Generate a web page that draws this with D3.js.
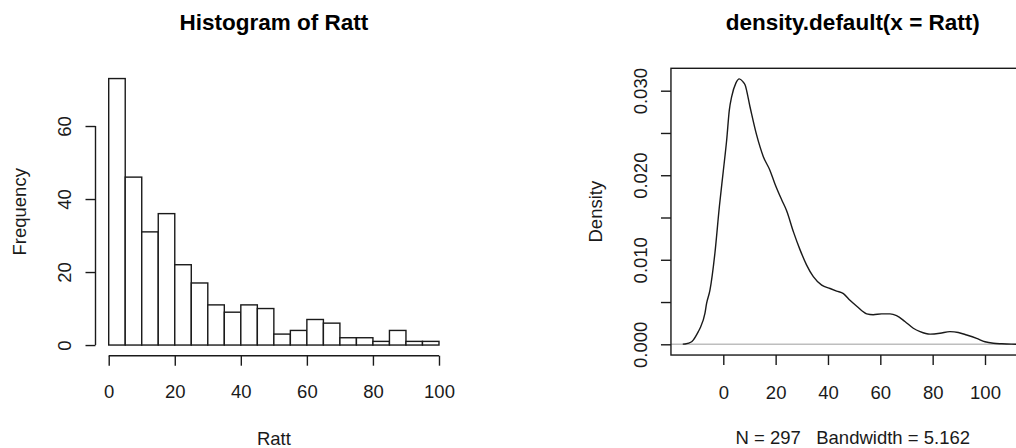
<!DOCTYPE html>
<html>
<head>
<meta charset="utf-8">
<script src="https://cdn.jsdelivr.net/npm/d3@7"></script>
<style>
  html, body { margin: 0; padding: 0; background: #fff; }
  svg { display: block; font-family: "Liberation Sans", Arial, sans-serif; }
</style>
</head>
<body>
<svg id="chart" width="1016" height="448"></svg>
<script>
// ---------- data ----------
const histBreaks = [0,5,10,15,20,25,30,35,40,45,50,55,60,65,70,75,80,85,90,95,100];
const histCounts = [73,46,31,36,22,17,11,9,11,10,3,4,7,6,2,2,1,4,1,1];
const histXTicks = [0,20,40,60,80,100];
const histYTicks = [0,20,40,60];

const densX = [-15.5,-14.6,-12.1,-11.5,-9.55,-8.9,-7.0,-6.4,-5.1,-3.2,-1.5,0,1.3,2.3,3.2,4.8,6.1,7.4,8.3,10.2,12.7,15.3,17.8,19.7,22.3,24.2,26.8,29.3,31.8,34.4,37.6,40.8,43.3,45.9,48.4,51.0,54.8,57.3,60.5,63.7,66.2,69.4,72.6,75.2,79.0,82.8,86.6,89.8,93.0,96.8,100.0,103.2,106.4,110,115.5];
const densY = [0.00002,0.00004,0.0003,0.0005,0.0015,0.0019,0.0037,0.0048,0.0064,0.0108,0.0163,0.0205,0.0242,0.0277,0.0293,0.0309,0.0314,0.0311,0.0307,0.0281,0.0248,0.0222,0.0206,0.0190,0.0171,0.0158,0.0133,0.0112,0.0094,0.0080,0.0070,0.0066,0.0063,0.0060,0.0052,0.0045,0.0036,0.0035,0.0036,0.0036,0.0034,0.0027,0.0019,0.0015,0.0012,0.0013,0.0015,0.0014,0.0011,0.0007,0.0003,0.00012,0.00006,0.00002,0.0];
const densXTicks = [0,20,40,60,80,100];
const densYTicks = [0,0.005,0.01,0.015,0.02,0.025,0.03];
const densYLabels = ["0.000","","0.010","","0.020","","0.030"];

const titles = ["Histogram of Ratt", "density.default(x = Ratt)"];
const xLabels = ["Ratt", "N = 297   Bandwidth = 5.162"];
const yLabels = ["Frequency", "Density"];

// ---------- setup ----------
const svg = d3.select("#chart");
const AX = 18.5, TT = 22.5;
const ink = "#1a1a1a";

function styleAxis(g, labelFn, rotated, off) {
  g.select(".domain").remove();
  g.selectAll(".tick line").attr("stroke", ink).attr("stroke-width", 1.4);
  const t = g.selectAll(".tick text")
    .attr("fill", ink).style("font-size", AX + "px")
    .style("font-family", "'Liberation Sans', Arial, sans-serif");
  if (labelFn) t.text(labelFn);
  if (rotated) {
    t.attr("transform", "rotate(-90)").attr("x", 0).attr("y", off)
     .attr("dy", "0.35em").attr("text-anchor", "middle");
  } else {
    t.attr("y", off).attr("dy", 0);
  }
}

// ---------- histogram ----------
const hx = d3.scaleLinear().domain([-4, 104]).range([95.5, 452.2]);
const hy = d3.scaleLinear().domain([-2.92, 75.92]).range([355.7, 67.9]);
const gh = svg.append("g");

gh.selectAll("rect.bar")
  .data(histCounts)
  .join("rect")
  .attr("class", "bar")
  .attr("x", (d, i) => hx(histBreaks[i]))
  .attr("width", (d, i) => hx(histBreaks[i + 1]) - hx(histBreaks[i]))
  .attr("y", d => hy(d))
  .attr("height", d => hy(0) - hy(d))
  .attr("fill", "#fff").attr("stroke", ink).attr("stroke-width", 1.4);

const hxAxis = gh.append("g").attr("transform", `translate(0,${hy(-2.92)})`)
  .call(d3.axisBottom(hx).tickValues(histXTicks).tickSize(10).tickSizeOuter(0));
styleAxis(hxAxis, d => d, false, 42.5);
gh.append("line")
  .attr("x1", hx(histXTicks[0])).attr("x2", hx(histXTicks[histXTicks.length - 1]))
  .attr("y1", hy(-2.92)).attr("y2", hy(-2.92))
  .attr("stroke", ink).attr("stroke-width", 1.4);

const hyAxis = gh.append("g").attr("transform", `translate(${hx(-4)},0)`)
  .call(d3.axisLeft(hy).tickValues(histYTicks).tickSize(10).tickSizeOuter(0));
styleAxis(hyAxis, d => d, true, -31);
gh.append("line")
  .attr("x1", hx(-4)).attr("x2", hx(-4))
  .attr("y1", hy(histYTicks[0])).attr("y2", hy(histYTicks[histYTicks.length - 1]))
  .attr("stroke", ink).attr("stroke-width", 1.4);

gh.append("text").attr("x", (hx(-4) + hx(104)) / 2).attr("y", 30)
  .attr("text-anchor", "middle").style("font-size", TT + "px").style("font-weight", "bold")
  .attr("fill", "#000").text(titles[0]);
gh.append("text").attr("x", (hx(-4) + hx(104)) / 2).attr("y", 444.5)
  .attr("text-anchor", "middle").style("font-size", AX + "px").attr("fill", ink).text(xLabels[0]);
gh.append("text").attr("transform", `translate(26,${(hy(-2.92) + hy(75.92)) / 2}) rotate(-90)`)
  .attr("text-anchor", "middle").style("font-size", AX + "px").attr("fill", ink).text(yLabels[0]);

// ---------- density ----------
const dx = d3.scaleLinear().domain([0, 100]).range([723.3, 985]);
const dy = d3.scaleLinear().domain([0, 0.03]).range([344.3, 90.7]);
const xMin = -20, xMax = 122, yMin = -0.00127, yMax = 0.03265;
const gd = svg.append("g");

gd.append("line")
  .attr("x1", dx(xMin)).attr("x2", dx(xMax)).attr("y1", dy(0)).attr("y2", dy(0))
  .attr("stroke", "#bebebe").attr("stroke-width", 1.6);

const pts = densX.map((x, i) => [x, densY[i]]);
gd.append("path").datum(pts)
  .attr("d", d3.line().x(d => dx(d[0])).y(d => dy(d[1])).curve(d3.curveMonotoneX))
  .attr("fill", "none").attr("stroke", ink).attr("stroke-width", 1.4);

gd.append("rect")
  .attr("x", dx(xMin)).attr("y", dy(yMax))
  .attr("width", dx(xMax) - dx(xMin)).attr("height", dy(yMin) - dy(yMax))
  .attr("fill", "none").attr("stroke", ink).attr("stroke-width", 1.4);

const dxAxis = gd.append("g").attr("transform", `translate(0,${dy(yMin)})`)
  .call(d3.axisBottom(dx).tickValues(densXTicks).tickSize(10).tickSizeOuter(0));
styleAxis(dxAxis, d => d, false, 43.8);

const dyAxis = gd.append("g").attr("transform", `translate(${dx(xMin)},0)`)
  .call(d3.axisLeft(dy).tickValues(densYTicks).tickSize(10).tickSizeOuter(0));
styleAxis(dyAxis, (d, i) => densYLabels[i], true, -30.5);

const cx = (dx(xMin) + dx(xMax)) / 2;
gd.append("text").attr("x", cx - 4).attr("y", 30)
  .attr("text-anchor", "middle").style("font-size", TT + "px").style("font-weight", "bold")
  .attr("fill", "#000").text(titles[1]);
gd.append("text").attr("x", cx - 4).attr("y", 444)
  .attr("text-anchor", "middle").style("font-size", AX + "px").attr("fill", ink)
  .style("white-space", "pre").attr("xml:space", "preserve").text(xLabels[1]);
gd.append("text").attr("transform", `translate(601.5,${(dy(yMin) + dy(yMax)) / 2}) rotate(-90)`)
  .attr("text-anchor", "middle").style("font-size", AX + "px").attr("fill", ink).text(yLabels[1]);
</script>
</body>
</html>
